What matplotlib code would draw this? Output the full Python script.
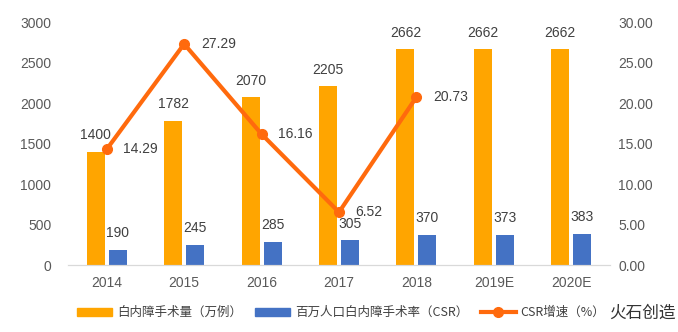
import numpy as np
import matplotlib.pyplot as plt
from matplotlib.lines import Line2D
from matplotlib.patches import Patch

plt.rcParams['font.family'] = ['Liberation Sans', 'Noto Sans CJK SC', 'DejaVu Sans']

years = ['2014', '2015', '2016', '2017', '2018', '2019E', '2020E']
surgeries = [1400, 1782, 2070, 2205, 2662, 2662, 2662]   # 白内障手术量（万例）
csr = [190, 245, 285, 305, 370, 373, 383]                # 百万人口白内障手术率
csr_growth = [14.29, 27.29, 16.16, 6.52, 20.73]          # CSR增速（%）

c_orange = '#FFA500'
c_blue = '#4472C4'
c_line = '#FF6A0D'
c_text = '#404040'
c_tick = '#595959'

fig = plt.figure(figsize=(6.78, 3.32), dpi=100)
ax = fig.add_axes([0.1003, 0.2018, 0.7994, 0.7319])
ax2 = ax.twinx()

x = np.arange(len(years))
w = 0.232
off = 0.142
ax.bar(x - off, surgeries, w, color=c_orange, zorder=2)
ax.bar(x + off, csr, w, color=c_blue, zorder=2)

for xi, v in zip(x, surgeries):
    ax.annotate(str(v), (xi - off, v), xytext=(0, 12), textcoords='offset points',
                ha='center', va='center', fontsize=10, color=c_text)
for xi, v in zip(x, csr):
    ax.annotate(str(v), (xi + off, v), xytext=(0, 12), textcoords='offset points',
                ha='center', va='center', fontsize=10, color=c_text)

xl = x[:len(csr_growth)]
ax2.plot(xl, csr_growth, color=c_line, lw=3, marker='o', ms=7, zorder=3)
for xi, v in zip(xl, csr_growth):
    ax2.annotate(f'{v:.2f}', (xi, v), xytext=(12, 0), textcoords='offset points',
                 ha='left', va='center', fontsize=10, color=c_text)

ax.set_xlim(-0.5, len(years) - 0.5)
ax.set_ylim(0, 3000)
ax.set_yticks(np.arange(0, 3001, 500))
ax2.set_ylim(0, 30)
ax2.set_yticks(np.arange(0, 31, 5))
ax2.set_yticklabels([f'{t:.2f}' for t in np.arange(0, 31, 5)])
ax.set_xticks(x)
ax.set_xticklabels(years)

for a in (ax, ax2):
    for s in ('top', 'left', 'right'):
        a.spines[s].set_visible(False)
    a.spines['bottom'].set_color('#D9D9D9')
    a.tick_params(length=0, labelsize=10, labelcolor=c_tick)
ax.tick_params(axis='y', pad=12)
ax.tick_params(axis='x', pad=8)
ax2.tick_params(axis='y', pad=6)

handles = [Patch(color=c_orange), Patch(color=c_blue),
           Line2D([0], [0], color=c_line, lw=3, marker='o', ms=7)]
labels = ['白内障手术量（万例）', '百万人口白内障手术率（CSR）', 'CSR增速（%）']
fig.legend(handles, labels, loc='center left', bbox_to_anchor=(0.105, 0.058), ncol=3,
           frameon=False, handlelength=2.8, handleheight=0.65,
           columnspacing=1.0, handletextpad=0.4, labelcolor=c_text, borderpad=0,
           prop={'family': ['Noto Sans CJK SC', 'DejaVu Sans'], 'size': 9})

fig.text(0.947, 0.058, '火石创造', ha='center', va='center', fontsize=12,
         color='#333333', family=['Noto Sans CJK SC', 'DejaVu Sans'])

fig.savefig('out.png', dpi=100)
